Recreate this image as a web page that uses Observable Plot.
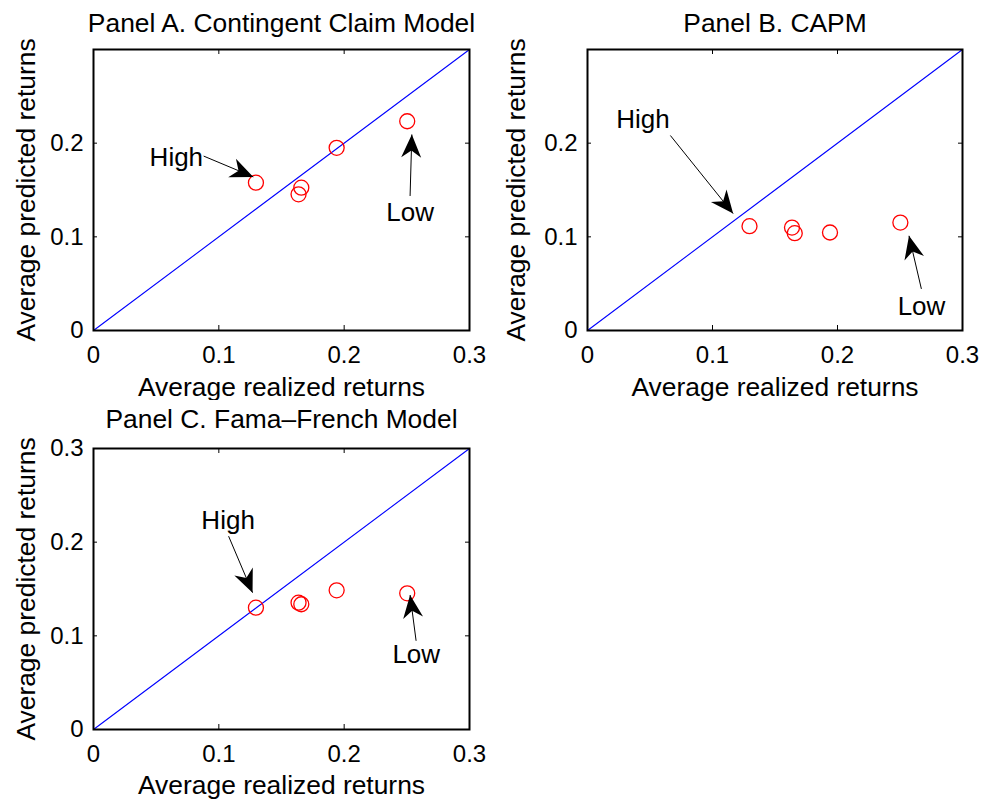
<!DOCTYPE html>
<html>
<head>
<meta charset="utf-8">
<script src="https://cdn.jsdelivr.net/npm/d3@7"></script>
<script src="https://cdn.jsdelivr.net/npm/@observablehq/plot@0.6"></script>
<style>
  html, body { margin: 0; padding: 0; background: #fff; }
  #chart { position: relative; width: 985px; height: 802px; background: #fff; overflow: hidden; }
  #chart > svg { position: absolute; }
</style>
</head>
<body>
<div id="chart"></div>
<script>
// ---- data ----
const portfolios = ["High", "Q2", "Q3", "Q4", "Low"];
const realized = [0.1296, 0.1636, 0.1658, 0.1940, 0.2503];
const predContingent = [0.1578, 0.1454, 0.1525, 0.1950, 0.2234];
const predCAPM = [0.1114, 0.1099, 0.1039, 0.1046, 0.1152];
const predFamaFrench = [0.1301, 0.1354, 0.1337, 0.1486, 0.1454];
const diagonal = [0, 0.3];
const xTicks = [0, 0.1, 0.2, 0.3];
const yTicksAB = [0, 0.1, 0.2];
const yTicksC = [0, 0.1, 0.2, 0.3];
const titles = ["Panel A. Contingent Claim Model", "Panel B. CAPM", "Panel C. Fama\u2013French Model"];
const xLabel = "Average realized returns";
const yLabel = "Average predicted returns";
const annLabels = ["High", "Low"];
// annotation positions (data units) per panel
const annTextXA = [0.0661, 0.2526], annTextYA = [0.1850, 0.1259];
const annTailXA = [0.0879, 0.2526], annTailYA = [0.1862, 0.1436];
const annTipXA  = [0.1275, 0.2540], annTipYA  = [0.1640, 0.2093];
const annTextXB = [0.0444, 0.2672], annTextYB = [0.2255, 0.0255];
const annTailXB = [0.0663, 0.2671], annTailYB = [0.2082, 0.0444];
const annTipXB  = [0.1165, 0.2572], annTipYB  = [0.1248, 0.1011];
const annTextXC = [0.1074, 0.2575], annTextYC = [0.2234, 0.0798];
const annTailXC = [0.1078, 0.2574], annTailYC = [0.2064, 0.0947];
const annTipXC  = [0.1269, 0.2526], annTipYC  = [0.1461, 0.1436];

const FONT = "'Liberation Sans', Arial, Helvetica, sans-serif";

function headMarker(color, context) {
  const m = d3.create("svg:marker")
    .attr("viewBox", "-26 -14 30 28")
    .attr("markerWidth", 30)
    .attr("markerHeight", 28)
    .attr("markerUnits", "userSpaceOnUse")
    .attr("refX", 0)
    .attr("refY", 0)
    .attr("orient", "auto")
    .attr("overflow", "visible");
  m.append("path")
    .attr("d", "M0,0L-23,-10L-16,0L-23,10Z")
    .attr("fill", "black")
    .attr("stroke", "none");
  return m.node();
}

function panel(cfg) {
  const idx = d3.range(realized.length);
  const ai = d3.range(annLabels.length);
  const fw = cfg.width - cfg.ml - cfg.mr;
  const fh = cfg.height - cfg.mt - cfg.mb;
  const svg = Plot.plot({
    width: cfg.width,
    height: cfg.height,
    marginLeft: cfg.ml,
    marginRight: cfg.mr,
    marginTop: cfg.mt,
    marginBottom: cfg.mb,
    style: { fontFamily: FONT, fontSize: "24px", background: "white", color: "black", overflow: "visible" },
    x: { domain: [0, 0.3], ticks: xTicks, tickSize: 0, tickPadding: 15, tickFormat: d => String(d), label: null },
    y: { domain: [0, 0.3], ticks: cfg.yTicks, tickSize: 0, tickPadding: 10, tickFormat: d => String(d), label: null },
    marks: [
      Plot.line(diagonal, { x: d => d, y: d => d, stroke: "#0000ff", strokeWidth: 1.1 }),
      Plot.dot(idx, { x: i => realized[i], y: i => cfg.pred[i], r: 7.5, stroke: "#ff0000", fill: "none", strokeWidth: 1.3 }),
      // inward tick marks on all four sides
      Plot.tickX(xTicks, { x: d => d, stroke: "black", strokeWidth: 1, insetTop: fh - 5 }),
      Plot.tickX(xTicks, { x: d => d, stroke: "black", strokeWidth: 1, insetBottom: fh - 5 }),
      Plot.tickY(cfg.yTicks, { y: d => d, stroke: "black", strokeWidth: 1, insetRight: fw - 4 }),
      Plot.tickY(cfg.yTicks, { y: d => d, stroke: "black", strokeWidth: 1, insetLeft: fw - 4 }),
      Plot.frame({ stroke: "black", strokeWidth: 2 }),
      // annotations
      Plot.link(ai, { x1: i => cfg.tailX[i], y1: i => cfg.tailY[i], x2: i => cfg.tipX[i], y2: i => cfg.tipY[i],
        stroke: "black", strokeWidth: 1, markerEnd: headMarker }),
      Plot.text(ai, { x: i => cfg.textX[i], y: i => cfg.textY[i], text: i => annLabels[i],
        fontSize: 26, fill: "black", textAnchor: "middle", lineAnchor: "middle" }),
      // titles and axis labels
      Plot.text([cfg.title], { frameAnchor: "top", dy: cfg.titleDy, lineAnchor: "bottom", textAnchor: "middle", text: d => d, fontSize: 26.4, fill: "black" }),
      Plot.text([xLabel], { frameAnchor: "bottom", dy: cfg.xLabDy, lineAnchor: "bottom", textAnchor: "middle", text: d => d, fontSize: 26.4, fill: "black" }),
      Plot.text([yLabel], { frameAnchor: "left", dx: cfg.yLabDx, rotate: -90, lineAnchor: "bottom", textAnchor: "middle", text: d => d, fontSize: 26.4, fill: "black" })
    ]
  });
  svg.style.left = cfg.left + "px";
  svg.style.top = cfg.top + "px";
  return svg;
}

const chart = document.getElementById("chart");
chart.appendChild(panel({
  left: 0, top: 0, width: 490, height: 400, ml: 93, mr: 21, mt: 49, mb: 70,
  yTicks: yTicksAB, pred: predContingent, title: titles[0], titleDy: -18, xLabDy: 65, yLabDx: -59,
  textX: annTextXA, textY: annTextYA, tailX: annTailXA, tailY: annTailYA, tipX: annTipXA, tipY: annTipYA
}));
chart.appendChild(panel({
  left: 490, top: 0, width: 495, height: 400, ml: 97, mr: 23, mt: 49, mb: 70,
  yTicks: yTicksAB, pred: predCAPM, title: titles[1], titleDy: -18, xLabDy: 65, yLabDx: -63,
  textX: annTextXB, textY: annTextYB, tailX: annTailXB, tailY: annTailYB, tipX: annTipXB, tipY: annTipYB
}));
chart.appendChild(panel({
  left: 0, top: 400, width: 490, height: 402, ml: 93, mr: 21, mt: 48, mb: 73,
  yTicks: yTicksC, pred: predFamaFrench, title: titles[2], titleDy: -21, xLabDy: 64, yLabDx: -59,
  textX: annTextXC, textY: annTextYC, tailX: annTailXC, tailY: annTailYC, tipX: annTipXC, tipY: annTipYC
}));
</script>
</body>
</html>
